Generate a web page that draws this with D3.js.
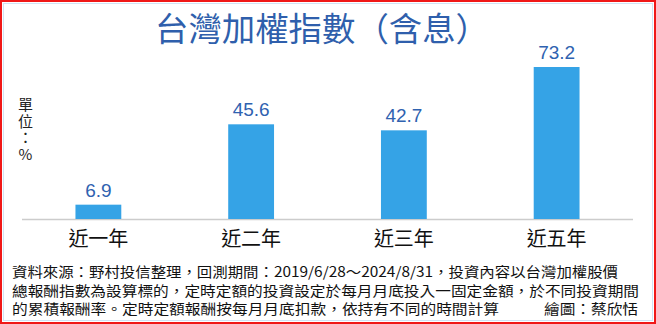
<!DOCTYPE html>
<html>
<head>
<meta charset="utf-8">
<script src="https://cdn.jsdelivr.net/npm/d3@7"></script>
<style>
  body { margin: 0; background: #fff; }
  svg { display: block; }
</style>
</head>
<body>
<svg id="chart"></svg>
<script>
var categories = ["近一年", "近二年", "近三年", "近五年"];
var values = [6.9, 45.6, 42.7, 73.2];
var unitLabel = "單位：%";
var noteLines = [
  "資料來源：野村投信整理，回測期間：2019/6/28～2024/8/31，投資內容以台灣加權股價",
  "總報酬指數為設算標的，定時定額的投資設定於每月月底投入一固定金額，於不同投資期間",
  "的累積報酬率。定時定額報酬按每月月底扣款，依持有不同的時間計算"
];
var credit = "繪圖：蔡欣恬";

var width = 656, height = 324;
var cjk = "'Noto Sans CJK TC', 'Noto Sans', sans-serif";
var svg = d3.select("#chart").attr("width", width).attr("height", height);

svg.append("rect").attr("width", width).attr("height", height).attr("fill", "#fff");

// frame
svg.append("rect")
  .attr("x", 1).attr("y", 1)
  .attr("width", width - 2).attr("height", height - 2)
  .attr("fill", "none").attr("stroke", "#f01818").attr("stroke-width", 2);
svg.append("rect")
  .attr("x", 3.5).attr("y", 3.5)
  .attr("width", width - 7).attr("height", height - 7)
  .attr("fill", "none").attr("stroke", "#cfe3f5").attr("stroke-width", 1);

// title
svg.append("text")
  .attr("x", 155).attr("y", 41)
  .attr("textLength", 334)
  .attr("lengthAdjust", "spacingAndGlyphs")
  .style("font-family", cjk)
  .style("font-size", "33px")
  .attr("fill", "#2f5fac")
  .text("台灣加權指數（含息）");

var x = d3.scaleBand().domain(categories).range([22, 633]).paddingInner(0.7).paddingOuter(0.35);
var y = d3.scaleLinear().domain([0, 73.2]).range([219, 67]);

// baseline
svg.append("line")
  .attr("x1", 22).attr("x2", 633)
  .attr("y1", y(0) + 0.5).attr("y2", y(0) + 0.5)
  .attr("stroke", "#cccccc").attr("stroke-width", 1.5);

svg.selectAll(".bar")
  .data(values)
  .enter()
  .append("rect")
  .attr("class", "bar")
  .attr("x", function (d, i) { return x(categories[i]); })
  .attr("width", x.bandwidth())
  .attr("y", function (d) { return y(d); })
  .attr("height", function (d) { return y(0) - y(d); })
  .attr("fill", "#35a3e6");

svg.selectAll(".val")
  .data(values)
  .enter()
  .append("text")
  .attr("class", "val")
  .attr("x", function (d, i) { return x(categories[i]) + x.bandwidth() / 2; })
  .attr("y", function (d) { return y(d) - 8; })
  .attr("text-anchor", "middle")
  .style("font-family", "'Liberation Sans', Arial, sans-serif")
  .style("font-size", "19px")
  .attr("fill", "#2f62b0")
  .text(function (d) { return d.toFixed(1); });

// category axis
var xaxis = d3.axisBottom(x).tickSize(0).tickPadding(0);
var gx = svg.append("g")
  .attr("transform", "translate(0," + 246 + ")")
  .call(xaxis);
gx.select(".domain").remove();
gx.selectAll("text")
  .attr("dy", 0)
  .style("font-family", cjk)
  .style("font-size", "20px")
  .attr("fill", "#111");

// unit label, written top to bottom
svg.append("text")
  .attr("x", 25.5).attr("y", 97)
  .style("writing-mode", "vertical-rl")
  .style("text-orientation", "upright")
  .style("letter-spacing", "1.5px")
  .style("font-family", cjk)
  .style("font-size", "15px")
  .attr("fill", "#222")
  .text(unitLabel);

// footnote as one block of lines
var noteLen = [606, 627, 487];
var note = svg.append("text")
  .style("font-family", cjk)
  .style("font-size", "14px")
  .attr("fill", "#111");
note.selectAll(".line")
  .data(noteLines)
  .enter()
  .append("tspan")
  .attr("class", "line")
  .attr("x", 12)
  .attr("y", function (d, i) { return 277 + i * 18.5; })
  .attr("textLength", function (d, i) { return noteLen[i]; })
  .attr("lengthAdjust", "spacingAndGlyphs")
  .text(function (d) { return d; });
note.append("tspan")
  .attr("x", 544).attr("y", 314)
  .attr("textLength", 94)
  .attr("lengthAdjust", "spacingAndGlyphs")
  .text(credit);
</script>
</body>
</html>
